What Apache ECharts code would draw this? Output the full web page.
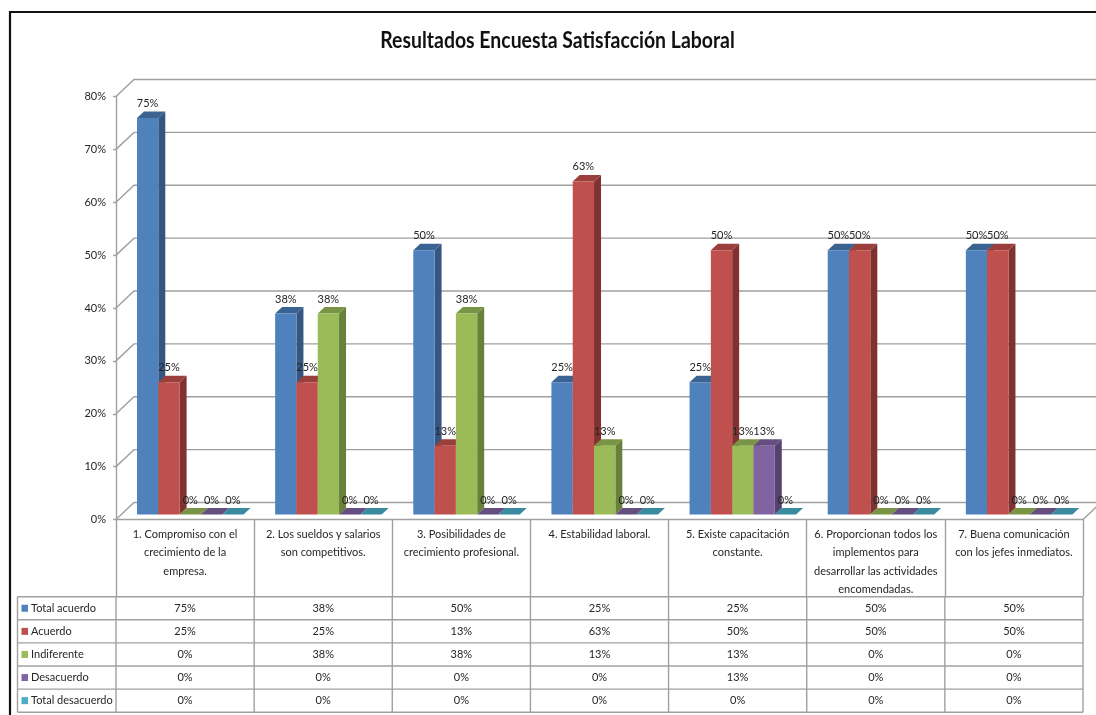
<!DOCTYPE html>
<html>
<head>
<meta charset="utf-8">
<title>Resultados Encuesta Satisfacción Laboral</title>
<style>html,body{margin:0;padding:0;background:#fff}#chart{width:1096px;height:715px}</style>
<script src="https://cdn.jsdelivr.net/npm/echarts@6/dist/echarts.min.js"></script>
</head>
<body>
<div id="chart"></div>
<script>
// Survey answers, in percent
const chartTitle = 'Resultados Encuesta Satisfacción Laboral';
const categories = [
  '1. Compromiso con el\ncrecimiento de la\nempresa.',
  '2. Los sueldos y salarios\nson competitivos.',
  '3. Posibilidades de\ncrecimiento profesional.',
  '4. Estabilidad laboral.',
  '5. Existe capacitación\nconstante.',
  '6. Proporcionan todos los\nimplementos para\ndesarrollar las actividades\nencomendadas.',
  '7. Buena comunicación\ncon los jefes inmediatos.'
];
const seriesNames = ['Total acuerdo', 'Acuerdo', 'Indiferente', 'Desacuerdo', 'Total desacuerdo'];
const totalAcuerdo = [75, 38, 50, 25, 25, 50, 50];
const acuerdo = [25, 25, 13, 63, 50, 50, 50];
const indiferente = [0, 38, 38, 13, 13, 0, 0];
const desacuerdo = [0, 0, 0, 0, 13, 0, 0];
const totalDesacuerdo = [0, 0, 0, 0, 0, 0, 0];
const seriesValues = [totalAcuerdo, acuerdo, indiferente, desacuerdo, totalDesacuerdo];
const yTicks = [0, 10, 20, 30, 40, 50, 60, 70, 80];

// Face colours per series: front, top, side
const faces = [
  ['#4F81BD', '#3B6392', '#345680'],
  ['#C0504D', '#9B3F3D', '#7F322F'],
  ['#9BBB59', '#7A9446', '#67803A'],
  ['#8064A2', '#654F81', '#54416D'],
  ['#4BACC6', '#3A8AA0', '#317587']
];
const swatches = ['#4F81BD', '#C0504D', '#9BBB59', '#8064A2', '#4BACC6'];

const FONT = 'Lato, "Open Sans", sans-serif';
const TEXT = '#262626';
const LINE = '#a0a0a0';
const GRID = { left: 116, top: 96.5, width: 967, height: 423 };
const WALL = { dx: 18, dy: 17 };       // offset of the back wall
const BAR = { inset: 21, width: 21.3, lift: 5, dx: 7, dy: 6.5 };
const TABLE = { left: 17.5, rowTop: 596.7, rowH: 23.1, rows: 5 };

function bandLeft(api, cat) {
  return api.coord([cat, 0])[0] - api.size([1, 0])[0] / 2;
}
function poly(points, fill) {
  return { type: 'polygon', shape: { points }, style: { fill, stroke: null } };
}

// Back wall grid line with its diagonal running to the front axis
function renderWall(params, api) {
  const tick = api.value(1);
  const y = api.coord([0, tick])[1];
  const x0 = GRID.left, x1 = GRID.left + GRID.width;
  const pts = [[x0, y], [x0 + WALL.dx, y - WALL.dy], [x1 + WALL.dx, y - WALL.dy]];
  if (tick === 0) pts.push([x1, y]);
  return { type: 'polyline', shape: { points: pts }, style: { stroke: LINE, lineWidth: 1.4, fill: null } };
}

function barGeometry(api, s) {
  const cat = api.value(0), v = api.value(1);
  const x = bandLeft(api, cat) + BAR.inset + s * BAR.width;
  const yBase = api.coord([cat, 0])[1] - BAR.lift;
  const yTop = api.coord([cat, v])[1] - BAR.lift;
  return { x, yBase, yTop, w: BAR.width };
}

function renderBar(s) {
  return function (params, api) {
    const g = barGeometry(api, s), c = faces[s];
    const children = [
      poly([[g.x + g.w, g.yTop], [g.x + g.w + BAR.dx, g.yTop - BAR.dy], [g.x + g.w + BAR.dx, g.yBase - BAR.dy], [g.x + g.w, g.yBase]], c[2]),
      poly([[g.x, g.yTop], [g.x + BAR.dx, g.yTop - BAR.dy], [g.x + g.w + BAR.dx, g.yTop - BAR.dy], [g.x + g.w, g.yTop]], c[1])
    ];
    if (g.yBase - g.yTop > 0.5) {
      children.push({ type: 'rect', shape: { x: g.x, y: g.yTop, width: g.w, height: g.yBase - g.yTop }, style: { fill: c[0] } });
    }
    return { type: 'group', children };
  };
}

function renderBarLabel(s) {
  return function (params, api) {
    const g = barGeometry(api, s);
    return {
      type: 'text',
      style: {
        x: g.x + g.w / 2, y: g.yTop - 14.5, text: api.value(1) + '%',
        font: '11px ' + FONT, fill: TEXT, align: 'center', verticalAlign: 'middle'
      }
    };
  };
}

// Value cells of the data table
function renderCell(params, api) {
  const cat = api.value(0), row = api.value(1);
  return {
    type: 'text',
    style: {
      x: api.coord([cat, 0])[0], y: TABLE.rowTop + (row + 0.5) * TABLE.rowH,
      text: api.value(2) + '%', font: '11px ' + FONT, fill: TEXT, align: 'center', verticalAlign: 'middle'
    }
  };
}

// Table rules, the series key in the first column, the heavy frame and the heading
function tableGraphics() {
  const out = [];
  const right = GRID.left + GRID.width;
  const rule = (x1, y1, x2, y2) => ({
    type: 'line', shape: { x1, y1, x2, y2 }, style: { stroke: LINE, lineWidth: 1.4 }, silent: true
  });
  for (let r = 0; r <= TABLE.rows; r++) {
    const y = TABLE.rowTop + r * TABLE.rowH;
    out.push(rule(TABLE.left, y, right, y));
  }
  const bottom = TABLE.rowTop + TABLE.rows * TABLE.rowH;
  out.push(rule(TABLE.left, TABLE.rowTop, TABLE.left, bottom));
  for (let c = 0; c <= categories.length; c++) {
    const x = GRID.left + c * GRID.width / categories.length;
    out.push(rule(x, TABLE.rowTop, x, bottom));
  }
  seriesNames.forEach((name, r) => {
    const cy = TABLE.rowTop + (r + 0.5) * TABLE.rowH;
    out.push({ type: 'rect', shape: { x: 21.5, y: cy - 3.5, width: 6.5, height: 7 }, style: { fill: swatches[r] } });
    out.push({
      type: 'text', x: 31, y: cy,
      style: { text: name, font: '11px ' + FONT, fill: TEXT, align: 'left', verticalAlign: 'middle' }
    });
  });
  out.push({ type: 'line', shape: { x1: 10, y1: 12, x2: 1096, y2: 12 }, style: { stroke: '#111', lineWidth: 2.2 } });
  out.push({ type: 'line', shape: { x1: 10, y1: 11, x2: 10, y2: 715 }, style: { stroke: '#111', lineWidth: 2.2 } });
  out.push({
    type: 'text', x: 557.5, y: 41, scaleX: 0.845,
    style: {
      text: chartTitle, font: 'bold 23px ' + FONT, fill: '#111',
      align: 'center', verticalAlign: 'middle'
    }
  });
  return out;
}

const series = [{
  type: 'custom', name: 'wall', z: 1, silent: true,
  renderItem: renderWall, data: yTicks.map(t => [0, t])
}];
seriesValues.forEach((vals, s) => {
  const data = vals.map((v, c) => [c, v]);
  series.push({ type: 'custom', name: seriesNames[s], z: 3, silent: true, renderItem: renderBar(s), data });
});
seriesValues.forEach((vals, s) => {
  const data = vals.map((v, c) => [c, v]);
  series.push({ type: 'custom', name: seriesNames[s] + ' %', z: 5, silent: true, renderItem: renderBarLabel(s), data });
});
const cells = [];
seriesValues.forEach((vals, r) => vals.forEach((v, c) => cells.push([c, r, v])));
series.push({ type: 'custom', name: 'tabla', z: 6, silent: true, renderItem: renderCell, data: cells, encode: { x: 0 } });

const chart = echarts.init(document.getElementById('chart'), null, { renderer: 'canvas' });
chart.setOption({
  animation: false,
  backgroundColor: '#fff',
  grid: GRID,
  xAxis: {
    type: 'category', data: categories,
    axisLine: { lineStyle: { color: LINE, width: 1.4 } },
    axisTick: { show: true, alignWithLabel: false, length: 77, lineStyle: { color: LINE, width: 1.4 } },
    axisLabel: {
      interval: 0, margin: 6, fontFamily: FONT, fontSize: 11, color: TEXT,
      lineHeight: 18.3, verticalAlign: 'top', align: 'center'
    },
    splitLine: { show: false }
  },
  yAxis: {
    type: 'value', min: 0, max: 80, interval: 10,
    axisLine: { show: true, lineStyle: { color: LINE, width: 1.4 } },
    axisTick: { show: true, length: 3, lineStyle: { color: LINE, width: 1.4 } },
    axisLabel: { formatter: '{value}%', margin: 10, fontFamily: FONT, fontSize: 11, color: TEXT },
    splitLine: { show: false }
  },
  graphic: tableGraphics(),
  series
});
</script>
</body>
</html>
